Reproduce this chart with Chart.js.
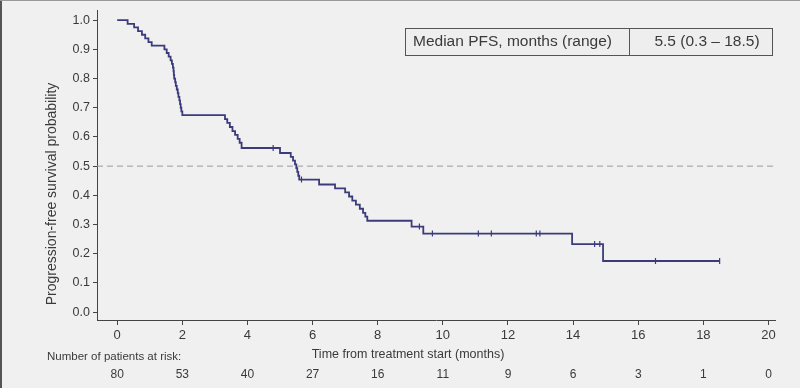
<!DOCTYPE html>
<html>
<head>
<meta charset="utf-8">
<script src="https://cdn.jsdelivr.net/npm/chart.js@4.4.1/dist/chart.umd.min.js"></script>
<style>
  html, body { margin: 0; padding: 0; background: #f0f0f0; }
  canvas { display: block; }
</style>
</head>
<body>
<canvas id="pfs" width="800" height="388"></canvas>
<script>
// Kaplan-Meier step vertices (time in months, survival after the drop)
const pfsTimes = [0, 0.32, 0.52, 0.64, 0.76, 0.86, 0.96, 1.06, 1.45, 1.52, 1.58, 1.64, 1.68, 1.71, 1.73, 1.74, 1.75, 1.78, 1.80, 1.83, 1.86, 1.88, 1.91, 1.93, 1.95, 1.97, 2.0,
  3.31, 3.38, 3.46, 3.54, 3.62, 3.70, 3.76, 3.82,
  5.0, 5.33, 5.40, 5.46, 5.50, 5.53, 5.56, 5.59,
  6.2, 6.69, 7.0, 7.12, 7.22, 7.33, 7.45, 7.55, 7.62, 7.68,
  9.04, 9.40, 13.97, 14.92, 18.5];
const pfsSurv = [1.0, 0.9875, 0.975, 0.9625, 0.95, 0.9375, 0.925, 0.9125, 0.9, 0.8875, 0.875, 0.8625, 0.85, 0.8375, 0.825, 0.8125, 0.8, 0.7875, 0.775, 0.7625, 0.75, 0.7375, 0.725, 0.7125, 0.7, 0.6875, 0.675,
  0.661, 0.648, 0.634, 0.62, 0.607, 0.593, 0.58, 0.562,
  0.545, 0.532, 0.519, 0.506, 0.493, 0.48, 0.467, 0.454,
  0.437, 0.424, 0.41, 0.396, 0.382, 0.368, 0.354, 0.34, 0.327, 0.313,
  0.293, 0.269, 0.233, 0.175, 0.175];

// censored observations (months)
const censorTimes = [4.79, 5.66, 9.28, 9.68, 11.09, 11.49, 12.87, 12.98, 14.66, 14.82, 16.53, 18.5];

const xTicks = [0, 2, 4, 6, 8, 10, 12, 14, 16, 18, 20];
const yTicks = [0, 0.1, 0.2, 0.3, 0.4, 0.5, 0.6, 0.7, 0.8, 0.9, 1.0];
const riskTimes = [0, 2, 4, 6, 8, 10, 12, 14, 16, 18, 20];
const riskCounts = [80, 53, 40, 27, 16, 11, 9, 6, 3, 1, 0];
const medianLevel = 0.5;
const tableLabel = "Median PFS, months (range)";
const tableValue = "5.5 (0.3 \u2013 18.5)";

const lineColor = "#3b3b7c";
const inkColor = "#3a3a3a";

function survAt(t) {
  let s = pfsSurv[0];
  for (let i = 0; i < pfsTimes.length; i++) {
    if (pfsTimes[i] <= t) s = pfsSurv[i];
  }
  return s;
}

const overlay = {
  id: "overlay",
  afterDraw(chart) {
    const { ctx } = chart;
    const x = chart.scales.x;
    ctx.save();

    // frame edges of the slide
    ctx.strokeStyle = "#555";
    ctx.lineWidth = 2;
    ctx.beginPath();
    ctx.moveTo(1, 0); ctx.lineTo(1, 388);
    ctx.stroke();
    ctx.strokeStyle = "#999";
    ctx.lineWidth = 1;
    ctx.beginPath();
    ctx.moveTo(0, 0.5); ctx.lineTo(800, 0.5);
    ctx.stroke();

    // median table
    ctx.fillStyle = "#eeeeee";
    ctx.fillRect(406, 28, 367, 27);
    ctx.strokeStyle = "#555";
    ctx.lineWidth = 1;
    ctx.strokeRect(405.5, 28.5, 367, 27);
    ctx.beginPath();
    ctx.moveTo(629.5, 28.5); ctx.lineTo(629.5, 55.5);
    ctx.stroke();
    ctx.fillStyle = inkColor;
    ctx.font = '15.5px "Liberation Sans", Arial, sans-serif';
    ctx.textBaseline = "middle";
    ctx.textAlign = "left";
    ctx.fillText(tableLabel, 413, 42);
    ctx.textAlign = "center";
    ctx.fillText(tableValue, 707, 42);

    // axis titles
    ctx.font = '12.5px "Liberation Sans", Arial, sans-serif';
    ctx.fillText("Time from treatment start (months)", 408, 355);
    ctx.save();
    ctx.translate(52, 194);
    ctx.rotate(-Math.PI / 2);
    ctx.font = '14px "Liberation Sans", Arial, sans-serif';
    ctx.fillText("Progression-free survival probability", 0, 0);
    ctx.restore();

    // number at risk
    ctx.font = '11.5px "Liberation Sans Narrow", "Liberation Sans", Arial, sans-serif';
    ctx.textAlign = "left";
    ctx.fillText("Number of patients at risk:", 47, 357);
    ctx.font = '12px "Liberation Sans Narrow", "Liberation Sans", Arial, sans-serif';
    ctx.textAlign = "center";
    riskTimes.forEach((t, i) => {
      ctx.fillText(String(riskCounts[i]), x.getPixelForValue(t), 375);
    });
    ctx.restore();
  }
};

const xMin = -0.62, xMax = 20.2;

new Chart(document.getElementById("pfs"), {
  type: "line",
  data: {
    datasets: [
      {
        label: "Median",
        data: [{ x: xMin, y: medianLevel }, { x: xMax, y: medianLevel }],
        borderColor: "#9a9a9a",
        borderWidth: 1,
        borderDash: [6, 4],
        pointRadius: 0,
        fill: false,
      },
      {
        label: "PFS",
        data: pfsTimes.map((t, i) => ({ x: t, y: pfsSurv[i] })),
        borderColor: lineColor,
        borderWidth: 1.8,
        stepped: true,
        pointRadius: 0,
        fill: false,
      },
      {
        label: "Censored",
        data: censorTimes.map((t) => ({ x: t, y: survAt(t) })),
        showLine: false,
        pointStyle: "line",
        rotation: 90,
        pointRadius: 3,
        pointBorderWidth: 1.2,
        borderColor: lineColor,
        backgroundColor: lineColor,
      },
    ],
  },
  options: {
    responsive: false,
    animation: false,
    layout: { padding: { left: 0, right: 25, top: 0, bottom: 0 } },
    plugins: {
      legend: { display: false },
      tooltip: { enabled: false },
    },
    scales: {
      x: {
        type: "linear",
        min: xMin,
        max: xMax,
        afterBuildTicks: (scale) => {
          scale.ticks = xTicks.map((v) => ({ value: v }));
        },
        afterFit: (scale) => {
          scale.height = 68;
        },
        grid: {
          drawOnChartArea: false,
          drawTicks: true,
          tickLength: 5,
          tickColor: "#444",
        },
        border: { display: true, color: "#444", width: 1 },
        ticks: {
          color: inkColor,
          padding: 3,
          maxRotation: 0,
          font: { family: '"Liberation Sans Narrow", "Liberation Sans", Arial', size: 13 },
          callback: (v) => String(v),
        },
      },
      y: {
        type: "linear",
        min: -0.027,
        max: 1.033,
        afterBuildTicks: (scale) => {
          scale.ticks = yTicks.map((v) => ({ value: v }));
        },
        afterFit: (scale) => {
          scale.width = 97;
        },
        grid: {
          drawOnChartArea: false,
          drawTicks: true,
          tickLength: 4,
          tickColor: "#444",
        },
        border: { display: true, color: "#444", width: 1 },
        ticks: {
          color: inkColor,
          padding: 3,
          font: { family: '"Liberation Sans", Arial', size: 12.5 },
          callback: (v) => v.toFixed(1),
        },
      },
    },
  },
  plugins: [overlay],
});
</script>
</body>
</html>
